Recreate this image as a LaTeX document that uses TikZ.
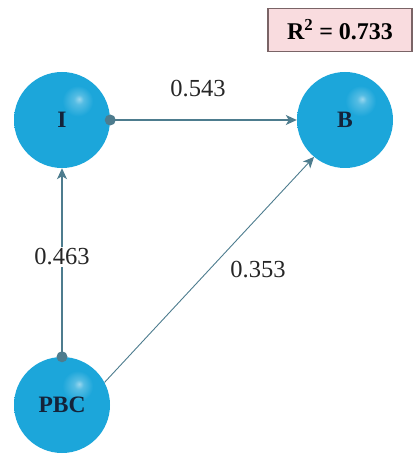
\documentclass[tikz,border=0pt]{standalone}
\usepackage{fontspec}
\setmainfont{Liberation Serif}
\usetikzlibrary{arrows.meta}
\definecolor{sky}{HTML}{1CA6DA}
\definecolor{skydark}{HTML}{168FC2}
\definecolor{linec}{HTML}{4D7C8E}
\definecolor{navy}{HTML}{14233A}
\definecolor{boxfill}{HTML}{F9DCDF}
\definecolor{boxline}{HTML}{7A6466}
\pgfdeclareradialshading{sphere}{\pgfpoint{9bp}{11bp}}{%
 color(0bp)=(white!55!sky); color(2.5bp)=(white!25!sky); color(8bp)=(sky);
 color(40bp)=(sky); color(62bp)=(skydark); color(80bp)=(skydark)}
\tikzset{
 ball/.style={circle, minimum size=96pt, inner sep=0pt, shading=sphere,
   font=\bfseries\fontsize{23.5}{23.5}\selectfont, text=navy},
 conn/.style={draw=linec, line width=1.2pt, -{Stealth[length=11pt,width=10pt,inset=3pt]}},
 lbl/.style={font=\fontsize{24.5}{24.5}\selectfont, text=black!85, inner sep=2pt},
 dotc/.style={circle, fill=linec, minimum size=11pt, inner sep=0pt}
}
\begin{document}
\begin{tikzpicture}[x=1pt,y=-1pt]
\useasboundingbox (0,0) rectangle (413,454);
\node[ball] (I) at (62,120) {I};
\node[ball] (B) at (345,120) {B};
\node[ball] (P) at (62,405) {PBC};
\node[draw=boxline, fill=boxfill, line width=1.5pt, minimum width=144pt, minimum height=43pt,
  font=\bfseries\fontsize{24}{24}\selectfont] (R) at (340,30) {R$^{\mathbf 2}$ = 0.733};
\node[dotc] (dI) at (I.east) {};
\node[dotc] (dP) at (P.north) {};
\draw[conn] (dI.center) -- (B.west);
\draw[conn] (dP.center) -- (I.south);
\draw[conn, line width=0.9pt] (P.28) -- (B.-130);
\node[lbl] (l1) at (198,89) {0.543};
\node[lbl, fill=white] (l2) at (62,257) {0.463};
\node[lbl] (l3) at (258,270) {0.353};
\end{tikzpicture}
\end{document}
